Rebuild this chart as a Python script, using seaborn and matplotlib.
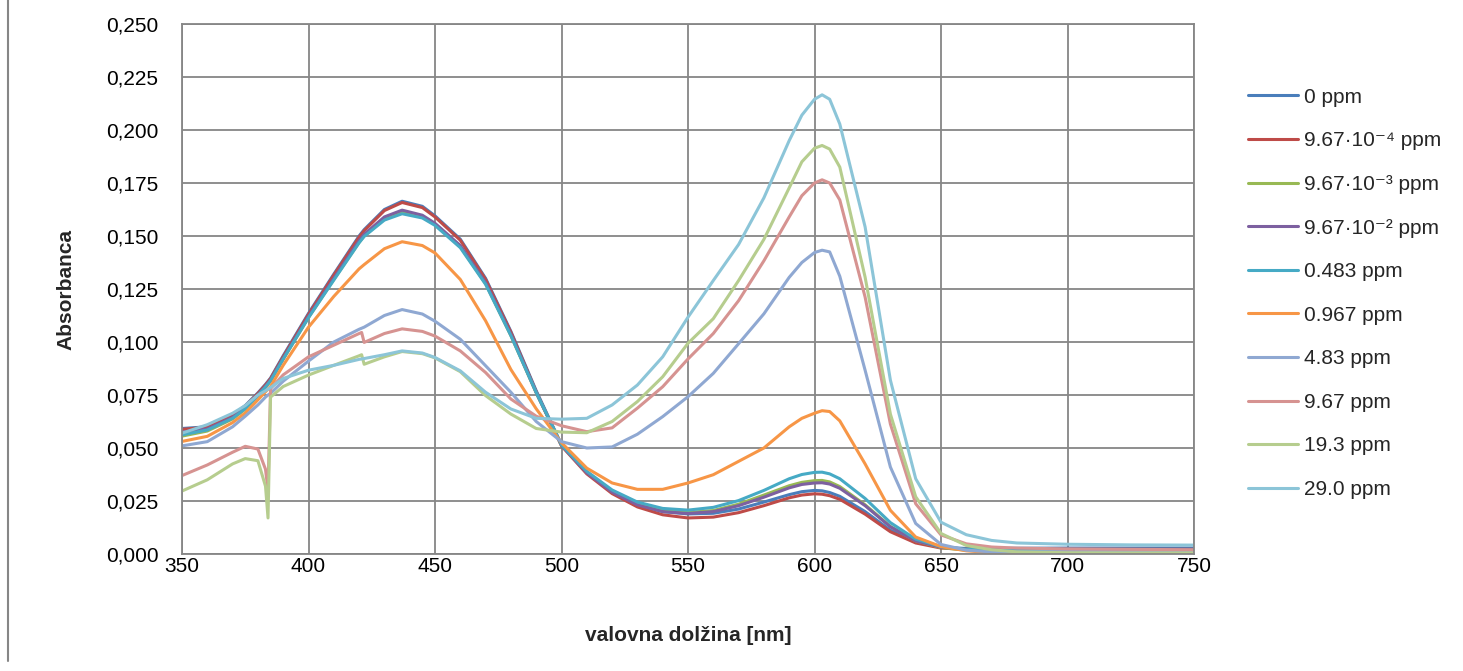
import numpy as np
import pandas as pd
import matplotlib
matplotlib.use('Agg')
import matplotlib.pyplot as plt
import seaborn as sns
from matplotlib.ticker import FuncFormatter

# valovne dolžine [nm]
wl = [350, 360, 370, 375, 380, 383, 384, 385, 390, 400,
      410, 420, 421, 422, 430, 437, 445, 450, 460, 470,
      480, 490, 500, 510, 520, 530, 540, 550, 560, 570,
      580, 590, 595, 600, 603, 606, 610, 620, 630, 640,
      650, 660, 670, 680, 700, 725, 750]

# absorbance, prebrane z grafa
abs_0 = [0.0592, 0.0600, 0.0655, 0.0700, 0.0760, 0.0800, 0.0815, 0.0830, 0.0935, 0.1135,
         0.1320, 0.1500, 0.1515, 0.1530, 0.1625, 0.1664, 0.1640, 0.1595, 0.1485, 0.1300,
         0.1050, 0.0770, 0.0515, 0.0385, 0.0295, 0.0235, 0.0200, 0.0189, 0.0192, 0.0212,
         0.0245, 0.0280, 0.0294, 0.0300, 0.0298, 0.0290, 0.0272, 0.0200, 0.0112, 0.0058,
         0.0032, 0.0026, 0.0026, 0.0027, 0.0028, 0.0028, 0.0028]
abs_1 = [0.0588, 0.0598, 0.0652, 0.0697, 0.0757, 0.0797, 0.0812, 0.0827, 0.0930, 0.1130,
         0.1315, 0.1495, 0.1510, 0.1525, 0.1620, 0.1658, 0.1634, 0.1590, 0.1480, 0.1295,
         0.1045, 0.0765, 0.0510, 0.0378, 0.0285, 0.0222, 0.0185, 0.0170, 0.0174, 0.0195,
         0.0228, 0.0265, 0.0278, 0.0284, 0.0282, 0.0275, 0.0258, 0.0188, 0.0105, 0.0052,
         0.0028, 0.0022, 0.0021, 0.0021, 0.0022, 0.0022, 0.0022]
abs_2 = [0.0556, 0.0580, 0.0637, 0.0683, 0.0745, 0.0785, 0.0800, 0.0815, 0.0918, 0.1115,
         0.1295, 0.1470, 0.1485, 0.1500, 0.1580, 0.1612, 0.1590, 0.1555, 0.1450, 0.1275,
         0.1030, 0.0760, 0.0512, 0.0385, 0.0295, 0.0235, 0.0205, 0.0196, 0.0205, 0.0235,
         0.0278, 0.0322, 0.0338, 0.0346, 0.0347, 0.0340, 0.0318, 0.0232, 0.0130, 0.0062,
         0.0030, 0.0018, 0.0015, 0.0014, 0.0014, 0.0014, 0.0014]
abs_3 = [0.0575, 0.0590, 0.0645, 0.0690, 0.0750, 0.0790, 0.0805, 0.0820, 0.0922, 0.1120,
         0.1300, 0.1478, 0.1493, 0.1508, 0.1590, 0.1622, 0.1598, 0.1560, 0.1455, 0.1280,
         0.1035, 0.0762, 0.0512, 0.0383, 0.0292, 0.0232, 0.0200, 0.0191, 0.0200, 0.0228,
         0.0268, 0.0312, 0.0328, 0.0335, 0.0336, 0.0330, 0.0310, 0.0228, 0.0128, 0.0062,
         0.0032, 0.0022, 0.0020, 0.0020, 0.0020, 0.0020, 0.0020]
abs_4 = [0.0562, 0.0585, 0.0640, 0.0686, 0.0748, 0.0788, 0.0803, 0.0818, 0.0920, 0.1115,
         0.1292, 0.1468, 0.1483, 0.1498, 0.1575, 0.1605, 0.1585, 0.1550, 0.1445, 0.1272,
         0.1030, 0.0762, 0.0515, 0.0390, 0.0302, 0.0245, 0.0215, 0.0207, 0.0220, 0.0252,
         0.0300, 0.0355, 0.0375, 0.0385, 0.0386, 0.0378, 0.0355, 0.0262, 0.0148, 0.0070,
         0.0035, 0.0022, 0.0018, 0.0017, 0.0017, 0.0017, 0.0017]
abs_5 = [0.0531, 0.0555, 0.0620, 0.0665, 0.0727, 0.0765, 0.0778, 0.0790, 0.0890, 0.1070,
         0.1215, 0.1345, 0.1355, 0.1365, 0.1440, 0.1473, 0.1455, 0.1420, 0.1295, 0.1100,
         0.0870, 0.0685, 0.0525, 0.0405, 0.0335, 0.0305, 0.0305, 0.0335, 0.0374, 0.0437,
         0.0500, 0.0600, 0.0640, 0.0664, 0.0676, 0.0672, 0.0628, 0.0425, 0.0206, 0.0080,
         0.0035, 0.0015, 0.0006, 0.0004, 0.0003, 0.0003, 0.0003]
abs_6 = [0.0510, 0.0530, 0.0600, 0.0650, 0.0703, 0.0740, 0.0750, 0.0758, 0.0815, 0.0910,
         0.1000, 0.1060, 0.1065, 0.1070, 0.1125, 0.1153, 0.1132, 0.1098, 0.1013, 0.0888,
         0.0763, 0.0625, 0.0530, 0.0500, 0.0505, 0.0565, 0.0648, 0.0742, 0.0852, 0.0992,
         0.1133, 0.1305, 0.1375, 0.1422, 0.1433, 0.1425, 0.1310, 0.0867, 0.0410, 0.0144,
         0.0045, 0.0018, 0.0010, 0.0010, 0.0012, 0.0012, 0.0012]
abs_7 = [0.0370, 0.0420, 0.0480, 0.0508, 0.0495, 0.0400, 0.0300, 0.0780, 0.0845, 0.0930,
         0.0985, 0.1040, 0.1045, 0.0998, 0.1040, 0.1062, 0.1050, 0.1028, 0.0958, 0.0856,
         0.0731, 0.0650, 0.0605, 0.0577, 0.0595, 0.0688, 0.0789, 0.0920, 0.1040, 0.1195,
         0.1383, 0.1590, 0.1690, 0.1750, 0.1765, 0.1750, 0.1670, 0.1212, 0.0613, 0.0237,
         0.0090, 0.0048, 0.0033, 0.0028, 0.0024, 0.0022, 0.0020]
abs_8 = [0.0297, 0.0350, 0.0425, 0.0450, 0.0440, 0.0320, 0.0170, 0.0740, 0.0790, 0.0844,
         0.0890, 0.0935, 0.0940, 0.0895, 0.0930, 0.0955, 0.0945, 0.0925, 0.0860, 0.0747,
         0.0660, 0.0592, 0.0575, 0.0572, 0.0625, 0.0719, 0.0836, 0.0994, 0.1110, 0.1290,
         0.1484, 0.1727, 0.1850, 0.1914, 0.1927, 0.1910, 0.1825, 0.1306, 0.0660, 0.0270,
         0.0097, 0.0040, 0.0020, 0.0010, 0.0006, 0.0005, 0.0005]
abs_9 = [0.0570, 0.0610, 0.0664, 0.0700, 0.0750, 0.0770, 0.0778, 0.0785, 0.0828, 0.0867,
         0.0890, 0.0918, 0.0920, 0.0922, 0.0940, 0.0958, 0.0948, 0.0927, 0.0864, 0.0763,
         0.0684, 0.0640, 0.0636, 0.0640, 0.0703, 0.0797, 0.0930, 0.1117, 0.1290, 0.1460,
         0.1680, 0.1950, 0.2070, 0.2145, 0.2166, 0.2145, 0.2028, 0.1543, 0.0820, 0.0355,
         0.0150, 0.0091, 0.0064, 0.0052, 0.0046, 0.0043, 0.0042]

names = ['0 ppm', '9.67·10⁻⁴ ppm', '9.67·10⁻³ ppm', '9.67·10⁻² ppm', '0.483 ppm',
         '0.967 ppm', '4.83 ppm', '9.67 ppm', '19.3 ppm', '29.0 ppm']
colors = ['#4A7EBB', '#BE4B48', '#98B954', '#7D60A0', '#46AAC5',
          '#F79646', '#8FA8D2', '#D69391', '#B6CD8E', '#8CC5D8']
series = [abs_0, abs_1, abs_2, abs_3, abs_4, abs_5, abs_6, abs_7, abs_8, abs_9]

df = pd.concat([pd.DataFrame({'wl': wl, 'absorbanca': s, 'serija': n})
                for n, s in zip(names, series)], ignore_index=True)

sns.set_theme(style='white')
plt.rcParams['font.family'] = ['Liberation Sans', 'DejaVu Sans']

W, H = 1463, 671
fig = plt.figure(figsize=(W / 100, H / 100), dpi=100)
ax = fig.add_axes([182 / W, 1 - 554 / H, (1194 - 182) / W, (554 - 24) / H])

sns.lineplot(data=df, x='wl', y='absorbanca', hue='serija', hue_order=names,
             palette=dict(zip(names, colors)), estimator=None, sort=False,
             linewidth=2.2, ax=ax)

grid_col = '#868686'
ax.set_xlim(350, 750)
ax.set_ylim(0, 0.25)
ax.set_xticks(range(350, 751, 50))
ax.set_yticks(np.linspace(0, 0.25, 11))
ax.yaxis.set_major_formatter(FuncFormatter(lambda v, p: f'{v:.3f}'.replace('.', ',')))
ax.grid(True, color=grid_col, linewidth=1.3)
ax.set_axisbelow(True)
for sp in ax.spines.values():
    sp.set_color(grid_col)
    sp.set_linewidth(1.3)
ax.tick_params(axis='both', direction='out', length=6, width=1.3, color=grid_col,
               labelsize=15, labelcolor='black')
ax.tick_params(axis='y', pad=11)
ax.tick_params(axis='x', pad=-4)

ax.set_xlabel('valovna dolžina [nm]', fontsize=15, fontweight='bold', labelpad=36)
ax.set_ylabel('Absorbanca', fontsize=15, fontweight='bold', labelpad=22)

handles, labels = ax.get_legend_handles_labels()
ax.legend(handles, labels, loc='upper left', bbox_to_anchor=(1229 / W, 1 - 69 / H),
          bbox_transform=fig.transFigure, frameon=False, fontsize=15,
          handlelength=2.4, handletextpad=0.3, labelspacing=1.18)

# rob okvirja grafa na levi
fig.add_artist(plt.Line2D([8 / W, 8 / W], [0.015, 1], transform=fig.transFigure,
                          color=grid_col, linewidth=1.5))

fig.savefig('out.png', dpi=100)
